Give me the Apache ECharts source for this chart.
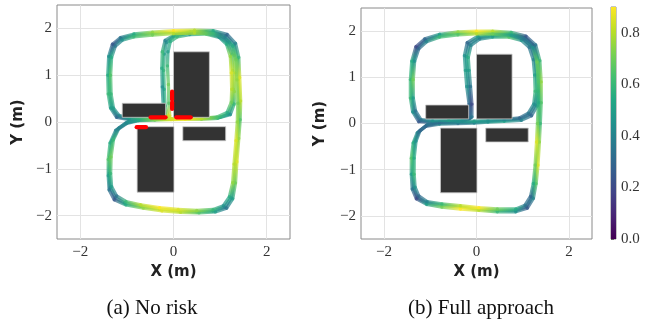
<!DOCTYPE html>
<html><head><meta charset="utf-8">
<script src="https://cdn.jsdelivr.net/npm/echarts@6.0.0/dist/echarts.min.js"></script>
<style>html,body{margin:0;padding:0;background:#fff}#c{width:648px;height:320px}</style>
</head><body><div id="c"></div>
<script>
// ---- axis / tick data ----
const axisRange = [-2.5, 2.5];
const xTicks = [-2, 0, 2];
const yTicks = [-2, -1, 0, 1, 2];
const colorRange = [0, 0.9];
const colorbarTicks = [0, 0.2, 0.4, 0.6, 0.8];
const captions = ['(a) No risk', '(b) Full approach'];
const axisNames = ['X (m)', 'Y (m)'];

// ---- obstacles [x0, y0, x1, y1] ----
const obstacles = [
  [0.0, 0.1, 0.77, 1.5],
  [-1.1, 0.1, -0.17, 0.4],
  [-0.78, -1.5, 0.01, -0.1],
  [0.2, -0.4, 1.12, -0.1]
];

// ---- red risk marks in (a) [x0, y0, x1, y1] ----
const riskMarks = [
  [-0.79, -0.11, -0.59, -0.11],
  [-0.49, 0.1, -0.17, 0.1],
  [0.06, 0.1, 0.37, 0.1],
  [-0.03, 0.48, -0.03, 0.65],
  [-0.03, 0.28, -0.03, 0.42]
];

// ---- trajectories [x, y, value] : (a) No risk ----
const lapA1 = [
[-0.12,0.12,0.8],[-0.18,0.35,0.6],[-0.2,0.7,0.55],[-0.21,1.1,0.6],[-0.2,1.45,0.5],[-0.15,1.7,0.45],
[0.0,1.83,0.5],[0.3,1.9,0.6],[0.65,1.9,0.55],[0.95,1.84,0.4],[1.15,1.7,0.45],[1.25,1.45,0.6],
[1.27,1.1,0.75],[1.28,0.7,0.7],[1.27,0.4,0.65],[1.18,0.17,0.5],[0.95,0.08,0.6],[0.6,0.06,0.75],
[0.25,0.06,0.85],[-0.05,0.05,0.85],[-0.4,0.04,0.7],[-0.75,0.03,0.5],[-1.0,-0.03,0.4],[-1.2,-0.16,0.35],
[-1.32,-0.4,0.5],[-1.37,-0.75,0.6],[-1.38,-1.1,0.55],[-1.36,-1.4,0.45],[-1.25,-1.62,0.3],[-1.05,-1.73,0.5],
[-0.7,-1.8,0.7],[-0.3,-1.86,0.8],[0.1,-1.9,0.85],[0.5,-1.92,0.7],[0.85,-1.9,0.55],[1.1,-1.82,0.4],
[1.24,-1.62,0.45],[1.3,-1.3,0.65],[1.33,-0.9,0.75],[1.37,-0.4,0.8],[1.4,0.0,0.7],[1.41,0.4,0.75],
[1.39,0.9,0.8],[1.37,1.35,0.65],[1.3,1.65,0.5],[1.12,1.84,0.35],[0.85,1.92,0.5],[0.45,1.93,0.75],
[0.0,1.92,0.85],[-0.45,1.89,0.8],[-0.85,1.85,0.6],[-1.12,1.78,0.4],[-1.28,1.65,0.3],[-1.36,1.4,0.5],
[-1.38,1.0,0.6],[-1.37,0.6,0.55],[-1.32,0.3,0.45],[-1.2,0.12,0.35],[-0.95,0.07,0.45],[-0.6,0.09,0.55],
[-0.3,0.1,0.7],[-0.12,0.12,0.8]
];
const lapA2 = [
[-0.16,0.1,0.7],[-0.22,0.35,0.5],[-0.24,0.75,0.45],[-0.25,1.15,0.55],[-0.24,1.5,0.6],[-0.18,1.74,0.4],
[0.02,1.86,0.55],[0.35,1.92,0.7],[0.7,1.93,0.6],[1.0,1.86,0.3],[1.2,1.7,0.5],[1.3,1.42,0.7],
[1.32,1.05,0.8],[1.31,0.65,0.75],[1.3,0.38,0.6],[1.22,0.16,0.45],[1.0,0.1,0.55],[0.6,0.08,0.8],
[0.25,0.08,0.9],[-0.05,0.07,0.8],[-0.4,0.05,0.65],[-0.75,0.04,0.45],[-1.02,-0.02,0.35],[-1.24,-0.18,0.4],
[-1.36,-0.45,0.55],[-1.4,-0.8,0.65],[-1.4,-1.15,0.5],[-1.38,-1.45,0.35],[-1.27,-1.66,0.25],[-1.02,-1.77,0.55],
[-0.65,-1.84,0.75],[-0.25,-1.9,0.85],[0.15,-1.93,0.8],[0.55,-1.94,0.65],[0.9,-1.92,0.5],[1.14,-1.84,0.35],
[1.27,-1.64,0.5],[1.33,-1.3,0.7],[1.36,-0.85,0.85],[1.4,-0.35,0.75],[1.43,0.05,0.65],[1.44,0.45,0.8],
[1.42,0.95,0.85],[1.4,1.38,0.6],[1.33,1.68,0.4],[1.15,1.87,0.3],[0.85,1.95,0.55],[0.45,1.96,0.8],
[0.0,1.95,0.9],[-0.45,1.92,0.75],[-0.85,1.88,0.55],[-1.14,1.8,0.35],[-1.31,1.66,0.25],[-1.39,1.4,0.45],
[-1.41,1.0,0.55],[-1.4,0.6,0.6],[-1.35,0.3,0.5],[-1.22,0.1,0.3],[-0.95,0.05,0.4],[-0.6,0.07,0.6],
[-0.3,0.09,0.75],[-0.16,0.1,0.7]
];
const lapA3 = [
[-0.08,0.13,0.85],[-0.1,0.4,0.65],[-0.11,0.8,0.7],[-0.13,1.2,0.6],[-0.12,1.5,0.5],[-0.07,1.72,0.55],
[0.08,1.82,0.6],[0.35,1.87,0.5],[0.7,1.88,0.65],[0.98,1.81,0.45],[1.14,1.66,0.55],[1.22,1.4,0.75],
[1.24,1.05,0.85],[1.25,0.7,0.8],[1.24,0.42,0.7],[1.15,0.2,0.55],[0.92,0.1,0.65],[0.6,0.08,0.8],
[0.25,0.07,0.9],[-0.05,0.06,0.85],[-0.4,0.06,0.75],[-0.75,0.04,0.55],[-0.98,0.0,0.45],[-1.17,-0.13,0.4],
[-1.29,-0.38,0.6],[-1.34,-0.75,0.7],[-1.35,-1.1,0.6],[-1.33,-1.38,0.5],[-1.22,-1.58,0.35],[-1.02,-1.7,0.6],
[-0.7,-1.77,0.8],[-0.3,-1.83,0.9],[0.1,-1.87,0.85],[0.5,-1.89,0.75],[0.85,-1.87,0.6],[1.07,-1.79,0.45],
[1.2,-1.6,0.55],[1.27,-1.3,0.75],[1.3,-0.9,0.8],[1.34,-0.4,0.85],[1.37,0.0,0.75],[1.38,0.4,0.7],
[1.36,0.9,0.75],[1.34,1.33,0.7],[1.27,1.62,0.55],[1.1,1.81,0.4],[0.85,1.89,0.6],[0.45,1.9,0.8],
[0.0,1.89,0.8],[-0.45,1.86,0.7],[-0.85,1.82,0.6],[-1.1,1.75,0.45],[-1.25,1.62,0.35],[-1.33,1.38,0.55],
[-1.35,1.0,0.65],[-1.34,0.6,0.6],[-1.29,0.3,0.5],[-1.17,0.14,0.4],[-0.95,0.09,0.5],[-0.6,0.1,0.65],
[-0.3,0.11,0.8],[-0.08,0.13,0.85]
];

// ---- trajectories [x, y, value] : (b) Full approach ----
const lapB1 = [
[-0.13,0.12,0.3],[-0.13,0.4,0.25],[-0.17,0.8,0.4],[-0.2,1.15,0.45],[-0.22,1.45,0.5],[-0.16,1.72,0.35],
[0.05,1.86,0.45],[0.35,1.9,0.55],[0.7,1.9,0.6],[1.0,1.83,0.4],[1.18,1.68,0.3],[1.27,1.4,0.45],
[1.3,1.05,0.55],[1.31,0.7,0.5],[1.27,0.4,0.4],[1.15,0.2,0.3],[0.95,0.1,0.35],[0.6,0.07,0.45],
[0.25,0.05,0.5],[-0.05,0.03,0.45],[-0.4,0.02,0.4],[-0.8,0.01,0.35],[-1.08,-0.04,0.3],[-1.25,-0.18,0.35],
[-1.34,-0.4,0.5],[-1.38,-0.75,0.6],[-1.38,-1.1,0.55],[-1.36,-1.4,0.4],[-1.28,-1.6,0.25],[-1.08,-1.72,0.45],
[-0.75,-1.77,0.65],[-0.35,-1.81,0.85],[0.05,-1.85,0.85],[0.45,-1.88,0.65],[0.85,-1.88,0.5],[1.08,-1.8,0.3],
[1.2,-1.6,0.35],[1.26,-1.3,0.6],[1.3,-0.9,0.75],[1.33,-0.4,0.8],[1.35,0.0,0.65],[1.37,0.45,0.6],
[1.37,0.9,0.7],[1.34,1.35,0.65],[1.25,1.67,0.4],[1.05,1.86,0.3],[0.75,1.94,0.55],[0.35,1.97,0.75],
[0.0,1.97,0.85],[-0.4,1.95,0.7],[-0.8,1.9,0.55],[-1.1,1.8,0.35],[-1.28,1.64,0.25],[-1.37,1.35,0.5],
[-1.4,0.95,0.65],[-1.4,0.55,0.55],[-1.35,0.25,0.4],[-1.22,0.06,0.3],[-0.95,0.04,0.4],[-0.6,0.05,0.45],
[-0.3,0.07,0.4],[-0.13,0.12,0.3]
];
const lapB2 = [
[-0.16,0.1,0.25],[-0.16,0.42,0.3],[-0.21,0.8,0.45],[-0.24,1.15,0.5],[-0.26,1.47,0.45],[-0.2,1.75,0.3],
[0.03,1.89,0.5],[0.35,1.93,0.6],[0.72,1.93,0.55],[1.03,1.86,0.35],[1.22,1.7,0.25],[1.31,1.42,0.5],
[1.34,1.05,0.6],[1.34,0.7,0.55],[1.31,0.38,0.45],[1.19,0.17,0.3],[0.97,0.07,0.4],[0.6,0.05,0.5],
[0.25,0.03,0.45],[-0.05,0.01,0.4],[-0.4,0.0,0.35],[-0.8,-0.01,0.4],[-1.1,-0.06,0.25],[-1.28,-0.2,0.4],
[-1.37,-0.42,0.55],[-1.41,-0.75,0.65],[-1.41,-1.1,0.5],[-1.39,-1.42,0.35],[-1.3,-1.63,0.2],[-1.08,-1.75,0.5],
[-0.75,-1.81,0.7],[-0.35,-1.85,0.9],[0.05,-1.88,0.8],[0.45,-1.91,0.6],[0.85,-1.91,0.45],[1.1,-1.83,0.25],
[1.23,-1.62,0.4],[1.29,-1.3,0.65],[1.33,-0.9,0.85],[1.36,-0.4,0.75],[1.38,0.0,0.6],[1.4,0.45,0.65],
[1.4,0.9,0.75],[1.37,1.36,0.6],[1.28,1.7,0.35],[1.07,1.89,0.25],[0.75,1.97,0.6],[0.35,2.0,0.8],
[0.0,2.0,0.9],[-0.4,1.98,0.75],[-0.8,1.93,0.5],[-1.12,1.83,0.3],[-1.31,1.66,0.2],[-1.4,1.35,0.55],
[-1.43,0.95,0.6],[-1.43,0.55,0.6],[-1.38,0.25,0.45],[-1.25,0.04,0.25],[-0.95,0.02,0.35],[-0.6,0.03,0.4],
[-0.3,0.05,0.35],[-0.16,0.1,0.25]
];
const lapB3 = [
[-0.1,0.14,0.35],[-0.1,0.42,0.2],[-0.13,0.8,0.35],[-0.16,1.15,0.5],[-0.18,1.43,0.55],[-0.12,1.69,0.4],
[0.07,1.83,0.4],[0.35,1.87,0.5],[0.7,1.87,0.65],[0.97,1.8,0.45],[1.14,1.65,0.35],[1.23,1.38,0.4],
[1.26,1.05,0.5],[1.27,0.7,0.6],[1.24,0.42,0.45],[1.12,0.22,0.35],[0.93,0.12,0.3],[0.6,0.09,0.4],
[0.25,0.07,0.45],[-0.05,0.05,0.5],[-0.4,0.04,0.45],[-0.8,0.03,0.3],[-1.05,-0.02,0.35],[-1.22,-0.15,0.3],
[-1.31,-0.38,0.45],[-1.35,-0.75,0.55],[-1.35,-1.1,0.6],[-1.33,-1.38,0.45],[-1.25,-1.57,0.3],[-1.07,-1.69,0.4],
[-0.75,-1.74,0.6],[-0.35,-1.78,0.8],[0.05,-1.82,0.9],[0.45,-1.85,0.7],[0.85,-1.85,0.55],[1.05,-1.77,0.35],
[1.17,-1.58,0.3],[1.23,-1.3,0.55],[1.27,-0.9,0.7],[1.3,-0.4,0.85],[1.32,0.0,0.7],[1.34,0.45,0.55],
[1.34,0.9,0.65],[1.31,1.33,0.7],[1.22,1.64,0.45],[1.03,1.83,0.35],[0.75,1.91,0.5],[0.35,1.94,0.7],
[0.0,1.94,0.8],[-0.4,1.92,0.65],[-0.8,1.87,0.6],[-1.08,1.77,0.4],[-1.25,1.62,0.3],[-1.34,1.35,0.45],
[-1.37,0.95,0.7],[-1.37,0.55,0.5],[-1.32,0.27,0.35],[-1.2,0.08,0.35],[-0.95,0.06,0.45],[-0.6,0.07,0.5],
[-0.3,0.09,0.45],[-0.1,0.14,0.35]
];

const viridis = ['#440154','#482475','#414487','#355f8d','#2a788e','#21918c','#22a884','#44bf70','#7ad151','#bddf26','#fde725'];

// ---- helpers ----
function hexRgb(h){ return [parseInt(h.substr(1,2),16), parseInt(h.substr(3,2),16), parseInt(h.substr(5,2),16)]; }
const viridisRgb = viridis.map(hexRgb);
function colorOf(v){
  let t = (v - colorRange[0]) / (colorRange[1] - colorRange[0]);
  t = Math.max(0, Math.min(1, t));
  const f = t * (viridisRgb.length - 1);
  const i = Math.min(viridisRgb.length - 2, Math.floor(f));
  const u = f - i;
  const a = viridisRgb[i], b = viridisRgb[i + 1];
  return 'rgb(' + [0,1,2].map(k => Math.round(a[k] + (b[k] - a[k]) * u)).join(',') + ')';
}
function toSegments(laps){
  const out = [];
  laps.forEach(lap => {
    for (let i = 0; i < lap.length - 1; i++) {
      const a = lap[i], b = lap[i + 1];
      out.push([a[0], a[1], b[0], b[1], a[2], b[2]]);
    }
  });
  return out;
}
const fmtNum = v => String(v).replace('-', '\u2212');

function renderTraj(params, api){
  const p1 = api.coord([api.value(0), api.value(1)]);
  const p2 = api.coord([api.value(2), api.value(3)]);
  const c1 = colorOf(api.value(4)), c2 = colorOf(api.value(5));
  return {
    type: 'line',
    shape: {x1: p1[0], y1: p1[1], x2: p2[0], y2: p2[1]},
    style: {
      stroke: {type: 'linear', x: p1[0], y: p1[1], x2: p2[0] + 0.01, y2: p2[1] + 0.01, global: true,
               colorStops: [{offset: 0, color: c1}, {offset: 1, color: c2}]},
      lineWidth: 3.4, lineCap: 'round', opacity: 0.72
    }
  };
}
function renderRect(params, api){
  const a = api.coord([api.value(0), api.value(3)]);
  const b = api.coord([api.value(2), api.value(1)]);
  return {type: 'rect', shape: {x: a[0], y: a[1], width: b[0] - a[0], height: b[1] - a[1]},
          style: {fill: '#333333', stroke: '#c8c8c8', lineWidth: 0.8}};
}
function renderRisk(params, api){
  const p1 = api.coord([api.value(0), api.value(1)]);
  const p2 = api.coord([api.value(2), api.value(3)]);
  return {type: 'line', shape: {x1: p1[0], y1: p1[1], x2: p2[0], y2: p2[1]},
          style: {stroke: '#ff0000', lineWidth: 4.2, lineCap: 'round'}};
}
function renderColorbar(params, api){
  const a = api.coord([api.value(0), api.value(3)]);
  const b = api.coord([api.value(2), api.value(1)]);
  return {type: 'rect', shape: {x: a[0], y: a[1], width: b[0] - a[0], height: b[1] - a[1]},
          style: {fill: {type: 'linear', x: 0, y: 1, x2: 0, y2: 0,
                  colorStops: viridis.map((c, i) => ({offset: i / (viridis.length - 1), color: c}))}}};
}

const labelFont = {fontFamily: 'Liberation Serif', fontSize: 15, color: '#333'};
const nameFont = {fontFamily: 'DejaVu Sans', fontWeight: 'bold', fontSize: 15, color: '#222'};

function mkX(gi){
  return {gridIndex: gi, type: 'value', min: axisRange[0], max: axisRange[1],
    name: axisNames[0], nameLocation: 'middle', nameGap: 23, nameTextStyle: nameFont,
    axisLine: {show: false}, axisTick: {show: false, customValues: xTicks},
    axisLabel: Object.assign({customValues: xTicks, formatter: fmtNum, margin: 6}, labelFont),
    splitLine: {show: true, lineStyle: {color: '#e3e3e3', width: 1}}};
}
function mkY(gi, gap){
  return {gridIndex: gi, type: 'value', min: axisRange[0], max: axisRange[1],
    name: axisNames[1], nameLocation: 'middle', nameGap: gap, nameTextStyle: nameFont,
    axisLine: {show: false}, axisTick: {show: false, customValues: yTicks},
    axisLabel: Object.assign({customValues: yTicks, formatter: fmtNum, margin: 5}, labelFont),
    splitLine: {show: true, lineStyle: {color: '#e3e3e3', width: 1}}};
}

const chart = echarts.init(document.getElementById('c'), null, {renderer: 'canvas'});
chart.setOption({
  animation: false,
  backgroundColor: '#ffffff',
  grid: [
    {left: 57, top: 5, width: 233, height: 234, show: true, borderColor: '#8a8a8a', borderWidth: 1, backgroundColor: 'transparent'},
    {left: 361, top: 8, width: 231, height: 231, show: true, borderColor: '#8a8a8a', borderWidth: 1, backgroundColor: 'transparent'},
    {left: 611, top: 7, width: 5, height: 232, show: true, borderColor: '#8a8a8a', borderWidth: 1, backgroundColor: 'transparent'}
  ],
  xAxis: [mkX(0), mkX(1),
    {gridIndex: 2, type: 'value', min: 0, max: 1, show: false}],
  yAxis: [mkY(0, 31), mkY(1, 33),
    {gridIndex: 2, type: 'value', position: 'right', min: colorRange[0], max: colorRange[1],
     axisLine: {show: false}, splitLine: {show: false},
     axisTick: {show: true, length: 3, customValues: colorbarTicks, lineStyle: {color: '#666'}},
     axisLabel: Object.assign({customValues: colorbarTicks, formatter: v => v.toFixed(1), margin: 5}, labelFont)}],
  series: [
    {type: 'custom', xAxisIndex: 0, yAxisIndex: 0, renderItem: renderTraj, data: toSegments([lapA1, lapA2, lapA3]), encode: {x: [0, 2], y: [1, 3]}, z: 2, silent: true},
    {type: 'custom', xAxisIndex: 1, yAxisIndex: 1, renderItem: renderTraj, data: toSegments([lapB1, lapB2, lapB3]), encode: {x: [0, 2], y: [1, 3]}, z: 2, silent: true},
    {type: 'custom', xAxisIndex: 0, yAxisIndex: 0, renderItem: renderRect, data: obstacles, encode: {x: [0, 2], y: [1, 3]}, z: 3, silent: true},
    {type: 'custom', xAxisIndex: 1, yAxisIndex: 1, renderItem: renderRect, data: obstacles, encode: {x: [0, 2], y: [1, 3]}, z: 3, silent: true},
    {type: 'custom', xAxisIndex: 0, yAxisIndex: 0, renderItem: renderRisk, data: riskMarks, encode: {x: [0, 2], y: [1, 3]}, z: 4, silent: true},
    {type: 'custom', xAxisIndex: 2, yAxisIndex: 2, renderItem: renderColorbar, data: [[0, colorRange[0], 1, colorRange[1]]], encode: {x: [0, 2], y: [1, 3]}, z: 2, silent: true}
  ],
  graphic: [
    {type: 'text', x: 152, y: 308, style: {text: captions[0], fontFamily: 'Liberation Serif', fontSize: 21, fill: '#111', textAlign: 'center', textVerticalAlign: 'middle'}},
    {type: 'text', x: 481, y: 308, style: {text: captions[1], fontFamily: 'Liberation Serif', fontSize: 21, fill: '#111', textAlign: 'center', textVerticalAlign: 'middle'}}
  ]
});
</script>
</body></html>
